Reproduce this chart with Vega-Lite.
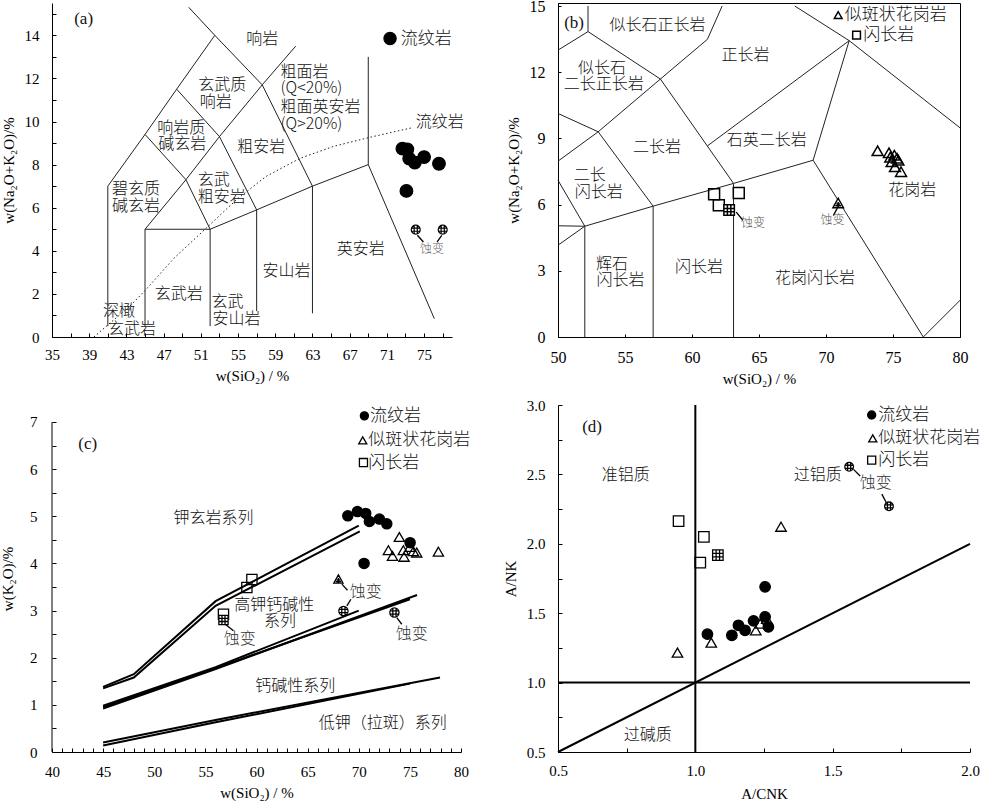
{
  "$schema": "https://vega.github.io/schema/vega-lite/v6.json",
  "background": "white",
  "padding": {"left": 0, "top": -3, "right": 0, "bottom": 0},
  "bounds": "flush",
  "columns": 2,
  "spacing": {"row": 68, "column": 97},
  "config": {
    "view": {"stroke": null},
    "font": "Liberation Serif",
    "axis": {"grid": false, "labelFont": "Liberation Serif", "labelFontSize": 15, "titleFont": "Liberation Serif", "titleFontSize": 15, "titleFontWeight": "normal", "labelColor": "#000", "titleColor": "#000", "domainColor": "#000", "tickColor": "#000", "labelFlush": false, "labelOverlap": false, "domainWidth": 1, "tickWidth": 1}
  },
  "datasets": {
    "a_ln": [
      {"s": 1, "x": 41, "y": 0.5}, {"s": 1, "x": 41, "y": 7}, {"s": 1, "x": 45, "y": 9.4}, {"s": 1, "x": 48.4, "y": 11.5}, {"s": 1, "x": 52.5, "y": 14}, {"s": 1, "x": 49.7, "y": 15.3},
      {"s": 2, "x": 52.5, "y": 14}, {"s": 2, "x": 57.6, "y": 11.7}, {"s": 2, "x": 61.2, "y": 13.5},
      {"s": 3, "x": 57.6, "y": 11.7}, {"s": 3, "x": 63, "y": 7}, {"s": 3, "x": 63, "y": 1.1},
      {"s": 4, "x": 63, "y": 7}, {"s": 4, "x": 69, "y": 8}, {"s": 4, "x": 69, "y": 13},
      {"s": 5, "x": 69, "y": 8}, {"s": 5, "x": 76.1, "y": 0.85},
      {"s": 6, "x": 45, "y": 0.5}, {"s": 6, "x": 45, "y": 5}, {"s": 6, "x": 52, "y": 5}, {"s": 6, "x": 52, "y": 0.5},
      {"s": 7, "x": 52, "y": 5}, {"s": 7, "x": 57, "y": 5.9}, {"s": 7, "x": 63, "y": 7},
      {"s": 8, "x": 57, "y": 5.9}, {"s": 8, "x": 57, "y": 1.2},
      {"s": 9, "x": 45, "y": 5}, {"s": 9, "x": 49.4, "y": 7.3}, {"s": 9, "x": 53, "y": 9.3}, {"s": 9, "x": 57.6, "y": 11.7},
      {"s": 10, "x": 45, "y": 9.4}, {"s": 10, "x": 49.4, "y": 7.3}, {"s": 10, "x": 52, "y": 5},
      {"s": 11, "x": 48.4, "y": 11.5}, {"s": 11, "x": 53, "y": 9.3}, {"s": 11, "x": 57, "y": 5.9}
    ],
    "a_dot": [
      {"x": 39.5, "y": 0}, {"x": 41, "y": 0.56}, {"x": 43.3, "y": 1.4}, {"x": 45, "y": 2.15}, {"x": 48.1, "y": 3.65}, {"x": 51.7, "y": 5.1}, {"x": 54.9, "y": 6.4}, {"x": 58, "y": 7.45}, {"x": 61.7, "y": 8.3}, {"x": 65.3, "y": 8.85}, {"x": 69.3, "y": 9.28}, {"x": 73.6, "y": 9.7}
    ],
    "a_ld": [
      {"s": 1, "x": 74.28, "y": 4.72}, {"s": 1, "x": 74.93, "y": 4.41},
      {"s": 2, "x": 76.9, "y": 4.72}, {"s": 2, "x": 76.4, "y": 4.41}
    ],
    "a_pt": [
      {"x": 72.67, "y": 8.74, "sym": "rhy"}, {"x": 73.2, "y": 8.71, "sym": "rhy"}, {"x": 73.4, "y": 8.28, "sym": "rhy"}, {"x": 74.0, "y": 8.09, "sym": "rhy"}, {"x": 75.0, "y": 8.35, "sym": "rhy"}, {"x": 76.6, "y": 8.04, "sym": "rhy"}, {"x": 73.1, "y": 6.78, "sym": "rhy"},
      {"x": 74.1, "y": 4.98, "sym": "rhy_alt"}, {"x": 77.0, "y": 4.98, "sym": "rhy_alt"},
      {"x": 71.34, "y": 13.85, "sym": "rhy", "g": "leg"}
    ],
    "a_tx": [
      {"t": "响岩", "x": 57.6, "y": 13.85, "k": "c"},
      {"t": "玄武质", "x": 53.3, "y": 11.68, "k": "c"},
      {"t": "响岩", "x": 52.6, "y": 10.9, "k": "c"},
      {"t": "粗面岩", "x": 59.57, "y": 12.3, "k": "L"},
      {"t": "(Q<20%)", "x": 59.57, "y": 11.56, "k": "L"},
      {"t": "粗面英安岩", "x": 59.57, "y": 10.67, "k": "L"},
      {"t": "(Q>20%)", "x": 59.57, "y": 9.87, "k": "L"},
      {"t": "响岩质", "x": 48.9, "y": 9.72, "k": "c"},
      {"t": "碱玄岩", "x": 49.0, "y": 8.94, "k": "c"},
      {"t": "粗安岩", "x": 57.5, "y": 8.82, "k": "c"},
      {"t": "玄武", "x": 52.4, "y": 7.27, "k": "c"},
      {"t": "粗安岩", "x": 53.26, "y": 6.5, "k": "c"},
      {"t": "碧玄质", "x": 44.04, "y": 6.88, "k": "c"},
      {"t": "碱玄岩", "x": 44.04, "y": 6.06, "k": "c"},
      {"t": "英安岩", "x": 68.18, "y": 4.1, "k": "c"},
      {"t": "安山岩", "x": 60.2, "y": 3.06, "k": "c"},
      {"t": "玄武岩", "x": 48.63, "y": 2.01, "k": "c"},
      {"t": "玄武", "x": 53.87, "y": 1.62, "k": "c"},
      {"t": "安山岩", "x": 54.84, "y": 0.82, "k": "c"},
      {"t": "深橄", "x": 42.2, "y": 1.21, "k": "c"},
      {"t": "玄武岩", "x": 43.6, "y": 0.39, "k": "c"},
      {"t": "流纹岩", "x": 74.1, "y": 9.98, "k": "L"},
      {"t": "流纹岩", "x": 72.49, "y": 13.85, "k": "g"},
      {"t": "蚀变", "x": 75.86, "y": 4.1, "k": "n"},
      {"t": "(a)", "x": 38.4, "y": 14.77, "k": "p"}
    ],
    "b_ln": [
      {"s": 1, "x": 50, "y": 13}, {"s": 1, "x": 52.24, "y": 13.84}, {"s": 1, "x": 52.24, "y": 15},
      {"s": 2, "x": 52.24, "y": 13.84}, {"s": 2, "x": 57.64, "y": 11.69}, {"s": 2, "x": 61.15, "y": 13.49}, {"s": 2, "x": 62.25, "y": 15},
      {"s": 3, "x": 57.64, "y": 11.69}, {"s": 3, "x": 63.1, "y": 6.96},
      {"s": 4, "x": 50, "y": 10.13}, {"s": 4, "x": 53, "y": 9.3}, {"s": 4, "x": 57.64, "y": 11.69},
      {"s": 5, "x": 53, "y": 9.3}, {"s": 5, "x": 57.1, "y": 5.93},
      {"s": 6, "x": 50, "y": 7.97}, {"s": 6, "x": 53, "y": 9.3},
      {"s": 7, "x": 50, "y": 7.1}, {"s": 7, "x": 52, "y": 5.02},
      {"s": 8, "x": 50, "y": 5.04}, {"s": 8, "x": 52, "y": 5.02},
      {"s": 9, "x": 50, "y": 4.16}, {"s": 9, "x": 52, "y": 5.02},
      {"s": 10, "x": 52, "y": 5.02}, {"s": 10, "x": 57.1, "y": 5.93}, {"s": 10, "x": 63.1, "y": 6.96}, {"s": 10, "x": 69.04, "y": 8.01},
      {"s": 11, "x": 52, "y": 5.02}, {"s": 11, "x": 52, "y": 0},
      {"s": 12, "x": 57.1, "y": 5.93}, {"s": 12, "x": 57.1, "y": 0},
      {"s": 13, "x": 63.1, "y": 6.96}, {"s": 13, "x": 63.1, "y": 0},
      {"s": 14, "x": 61.15, "y": 8.66}, {"s": 14, "x": 71.73, "y": 13.43},
      {"s": 15, "x": 71.73, "y": 13.43}, {"s": 15, "x": 69.04, "y": 8.01},
      {"s": 16, "x": 67.67, "y": 15}, {"s": 16, "x": 71.73, "y": 13.43}, {"s": 16, "x": 80, "y": 9.48},
      {"s": 17, "x": 69.04, "y": 8.01}, {"s": 17, "x": 77.26, "y": 0}, {"s": 17, "x": 80, "y": 1.66}
    ],
    "b_ld": [
      {"s": 1, "x": 63.3, "y": 5.66}, {"s": 1, "x": 63.8, "y": 5.29},
      {"s": 2, "x": 70.85, "y": 5.85}, {"s": 2, "x": 70.55, "y": 5.5}
    ],
    "b_pt": [
      {"x": 61.65, "y": 6.47, "sym": "dio"}, {"x": 63.49, "y": 6.53, "sym": "dio"}, {"x": 62.0, "y": 5.97, "sym": "dio"}, {"x": 62.77, "y": 5.75, "sym": "dio_alt"},
      {"x": 73.85, "y": 8.44, "sym": "gra"}, {"x": 74.7, "y": 8.35, "sym": "gra"}, {"x": 75.1, "y": 8.24, "sym": "gra"}, {"x": 75.4, "y": 8.01, "sym": "gra"}, {"x": 74.9, "y": 7.94, "sym": "gra"}, {"x": 75.6, "y": 7.49, "sym": "gra"}, {"x": 75.15, "y": 7.71, "sym": "gra"}, {"x": 74.8, "y": 8.15, "sym": "gra"}, {"x": 75.3, "y": 8.1, "sym": "gra"},
      {"x": 70.91, "y": 6.05, "sym": "gra_alt"},
      {"x": 70.91, "y": 14.59, "sym": "gra", "g": "leg"}, {"x": 72.28, "y": 13.68, "sym": "dio", "g": "leg"}
    ],
    "b_tx": [
      {"t": "似长石正长岩", "x": 57.42, "y": 14.14, "k": "c"},
      {"t": "正长岩", "x": 63.99, "y": 12.78, "k": "c"},
      {"t": "似长石", "x": 53.29, "y": 12.17, "k": "c"},
      {"t": "二长正长岩", "x": 53.41, "y": 11.45, "k": "c"},
      {"t": "石英二长岩", "x": 65.58, "y": 8.95, "k": "c"},
      {"t": "二长岩", "x": 57.39, "y": 8.62, "k": "c"},
      {"t": "二长", "x": 52.37, "y": 7.33, "k": "c"},
      {"t": "闪长岩", "x": 53.04, "y": 6.58, "k": "c"},
      {"t": "花岗岩", "x": 76.44, "y": 6.68, "k": "c"},
      {"t": "辉石", "x": 54.03, "y": 3.33, "k": "c"},
      {"t": "闪长岩", "x": 54.66, "y": 2.6, "k": "c"},
      {"t": "闪长岩", "x": 60.53, "y": 3.18, "k": "c"},
      {"t": "花岗闪长岩", "x": 69.17, "y": 2.68, "k": "c"},
      {"t": "似斑状花岗岩", "x": 71.4, "y": 14.59, "k": "g"},
      {"t": "闪长岩", "x": 72.78, "y": 13.68, "k": "g"},
      {"t": "蚀变", "x": 64.56, "y": 5.17, "k": "n"},
      {"t": "蚀变", "x": 70.49, "y": 5.29, "k": "n"},
      {"t": "(b)", "x": 51.2, "y": 14.21, "k": "p"}
    ],
    "c_ln": [
      {"s": "A", "x": 45, "y": 1.38}, {"s": "A", "x": 48, "y": 1.65}, {"s": "A", "x": 56, "y": 3.2}, {"s": "A", "x": 70, "y": 4.8},
      {"s": "B", "x": 45, "y": 1.35}, {"s": "B", "x": 48, "y": 1.58}, {"s": "B", "x": 56, "y": 3.1}, {"s": "B", "x": 70.1, "y": 4.68},
      {"s": "C", "x": 45, "y": 0.98}, {"s": "C", "x": 56, "y": 1.8}, {"s": "C", "x": 70, "y": 3.0},
      {"s": "D", "x": 45, "y": 0.92}, {"s": "D", "x": 56, "y": 1.76}, {"s": "D", "x": 75.7, "y": 3.33},
      {"s": "E", "x": 45, "y": 0.95}, {"s": "E", "x": 56, "y": 1.78}, {"s": "E", "x": 75, "y": 3.24},
      {"s": "F", "x": 45, "y": 0.2}, {"s": "F", "x": 56, "y": 0.68}, {"s": "F", "x": 77.95, "y": 1.58},
      {"s": "G", "x": 45, "y": 0.14}, {"s": "G", "x": 56, "y": 0.63}, {"s": "G", "x": 75, "y": 1.45}
    ],
    "c_ax": [
      {"x": 40, "y": 0}, {"x": 40, "y": 7}
    ],
    "c_ld": [
      {"s": 1, "x": 68.35, "y": 3.56}, {"s": 1, "x": 68.9, "y": 3.43},
      {"s": 2, "x": 68.84, "y": 3.1}, {"s": 2, "x": 69.23, "y": 3.24},
      {"s": 3, "x": 73.72, "y": 2.85}, {"s": 3, "x": 74.21, "y": 2.71},
      {"s": 4, "x": 56.94, "y": 2.71}, {"s": 4, "x": 57.75, "y": 2.57}
    ],
    "c_pt": [
      {"x": 68.93, "y": 5.01, "sym": "rhy"}, {"x": 69.87, "y": 5.1, "sym": "rhy"}, {"x": 70.68, "y": 5.06, "sym": "rhy"}, {"x": 71.04, "y": 4.89, "sym": "rhy"}, {"x": 72.02, "y": 4.94, "sym": "rhy"}, {"x": 72.74, "y": 4.84, "sym": "rhy"}, {"x": 70.52, "y": 4.0, "sym": "rhy"}, {"x": 75.02, "y": 4.44, "sym": "rhy"},
      {"x": 73.97, "y": 4.56, "sym": "gra"}, {"x": 72.9, "y": 4.28, "sym": "gra"}, {"x": 73.3, "y": 4.16, "sym": "gra"}, {"x": 74.36, "y": 4.28, "sym": "gra"}, {"x": 74.43, "y": 4.14, "sym": "gra"}, {"x": 75.34, "y": 4.26, "sym": "gra"}, {"x": 75.67, "y": 4.23, "sym": "gra"}, {"x": 77.79, "y": 4.25, "sym": "gra"}, {"x": 75.0, "y": 4.35, "sym": "gra"},
      {"x": 68.01, "y": 3.66, "sym": "gra_alt"},
      {"x": 59.55, "y": 3.66, "sym": "dio"}, {"x": 59.06, "y": 3.49, "sym": "dio"}, {"x": 56.77, "y": 2.92, "sym": "dio"},
      {"x": 56.77, "y": 2.8, "sym": "dio_alt"},
      {"x": 68.5, "y": 2.99, "sym": "rhy_alt"}, {"x": 73.49, "y": 2.96, "sym": "rhy_alt"},
      {"x": 70.55, "y": 7.13, "sym": "rhy", "g": "leg"}, {"x": 70.39, "y": 6.61, "sym": "gra", "g": "leg"}, {"x": 70.46, "y": 6.14, "sym": "dio", "g": "leg"}
    ],
    "c_tx": [
      {"t": "钾玄岩系列", "x": 55.8, "y": 4.97, "k": "c"},
      {"t": "高钾钙碱性", "x": 61.73, "y": 3.12, "k": "c"},
      {"t": "系列", "x": 62.3, "y": 2.77, "k": "c"},
      {"t": "钙碱性系列", "x": 63.78, "y": 1.4, "k": "c"},
      {"t": "低钾（拉斑）系列", "x": 72.35, "y": 0.62, "k": "c"},
      {"t": "蚀变", "x": 58.37, "y": 2.39, "k": "N"},
      {"t": "蚀变", "x": 70.68, "y": 3.4, "k": "N"},
      {"t": "蚀变", "x": 75.18, "y": 2.5, "k": "N"},
      {"t": "(c)", "x": 43.5, "y": 6.53, "k": "p"},
      {"t": "流纹岩", "x": 71.1, "y": 7.13, "k": "g"},
      {"t": "似斑状花岗岩", "x": 70.94, "y": 6.61, "k": "g"},
      {"t": "闪长岩", "x": 70.94, "y": 6.14, "k": "g"}
    ],
    "d_ln": [
      {"s": 1, "x": 1, "y": 0.5}, {"s": 1, "x": 1, "y": 3},
      {"s": 2, "x": 0.5, "y": 1}, {"s": 2, "x": 2, "y": 1},
      {"s": 3, "x": 0.5, "y": 0.5}, {"s": 3, "x": 2, "y": 2}
    ],
    "d_ld": [
      {"s": 1, "x": 1.576, "y": 2.536}, {"s": 1, "x": 1.6, "y": 2.488},
      {"s": 2, "x": 1.679, "y": 2.358}, {"s": 2, "x": 1.697, "y": 2.29}
    ],
    "d_pt": [
      {"x": 1.044, "y": 1.349, "sym": "rhy"}, {"x": 1.133, "y": 1.341, "sym": "rhy"}, {"x": 1.157, "y": 1.413, "sym": "rhy"}, {"x": 1.181, "y": 1.377, "sym": "rhy"}, {"x": 1.212, "y": 1.445, "sym": "rhy"}, {"x": 1.254, "y": 1.69, "sym": "rhy"}, {"x": 1.254, "y": 1.474, "sym": "rhy"}, {"x": 1.266, "y": 1.401, "sym": "rhy"},
      {"x": 0.935, "y": 1.216, "sym": "gra"}, {"x": 1.058, "y": 1.288, "sym": "gra"}, {"x": 1.312, "y": 2.123, "sym": "gra"}, {"x": 1.22, "y": 1.377, "sym": "gra"}, {"x": 1.236, "y": 1.425, "sym": "gra"}, {"x": 1.26, "y": 1.46, "sym": "gra"},
      {"x": 0.939, "y": 2.163, "sym": "dio"}, {"x": 1.031, "y": 2.05, "sym": "dio"}, {"x": 1.018, "y": 1.865, "sym": "dio"}, {"x": 1.082, "y": 1.918, "sym": "dio_alt"},
      {"x": 1.56, "y": 2.555, "sym": "rhy_alt"}, {"x": 1.705, "y": 2.27, "sym": "rhy_alt"},
      {"x": 1.642, "y": 2.928, "sym": "rhy", "g": "leg"}, {"x": 1.646, "y": 2.76, "sym": "gra", "g": "leg"}, {"x": 1.642, "y": 2.603, "sym": "dio", "g": "leg"}
    ],
    "d_tx": [
      {"t": "准铝质", "x": 0.747, "y": 2.495, "k": "c"},
      {"t": "过铝质", "x": 1.446, "y": 2.495, "k": "c"},
      {"t": "过碱质", "x": 0.827, "y": 0.62, "k": "c"},
      {"t": "蚀变", "x": 1.657, "y": 2.435, "k": "N"},
      {"t": "(d)", "x": 0.624, "y": 2.84, "k": "p"},
      {"t": "流纹岩", "x": 1.666, "y": 2.928, "k": "g"},
      {"t": "似斑状花岗岩", "x": 1.666, "y": 2.76, "k": "g"},
      {"t": "闪长岩", "x": 1.666, "y": 2.603, "k": "g"}
    ]
  },
  "concat": [
    {
      "width": 400, "height": 334,
      "encoding": {
        "x": {"field": "x", "type": "quantitative", "scale": {"domain": [35, 78], "nice": false, "zero": false}, "axis": {"title": "w(SiO₂) / %", "values": [35, 37, 39, 41, 43, 45, 47, 49, 51, 53, 55, 57, 59, 61, 63, 65, 67, 69, 71, 73, 75, 77], "labelExpr": "datum.value % 4 == 3 ? datum.label : ''", "tickSize": -4, "labelPadding": 14, "titlePadding": 6}},
        "y": {"field": "y", "type": "quantitative", "scale": {"domain": [0, 15.5], "nice": false, "zero": false}, "axis": {"title": "w(Na₂O+K₂O)/%", "values": [0, 1, 2, 3, 4, 5, 6, 7, 8, 9, 10, 11, 12, 13, 14, 15], "labelExpr": "datum.value % 2 == 0 ? datum.label : ''", "tickSize": -4, "labelPadding": 17, "titlePadding": 8}}
      },
      "layer": [
        {"data": {"name": "a_ln"}, "mark": {"type": "line", "color": "#222", "strokeWidth": 1}, "encoding": {"detail": {"field": "s"}, "order": {"value": null}}},
        {"data": {"name": "a_dot"}, "mark": {"type": "line", "color": "#222", "strokeWidth": 1, "strokeDash": [1.5, 2.5]}, "encoding": {"order": {"value": null}}},
        {"data": {"name": "a_ld"}, "mark": {"type": "line", "color": "#000", "strokeWidth": 1.3}, "encoding": {"detail": {"field": "s"}, "order": {"value": null}}},
        {"data": {"name": "a_pt"}, "mark": {"type": "point", "filled": true, "stroke": "#000", "strokeWidth": 1.2, "opacity": 1},
         "encoding": {
           "shape": {"field": "sym", "type": "nominal", "legend": null, "scale": {"domain": ["rhy", "gra", "dio", "rhy_alt", "gra_alt", "dio_alt"], "range": ["circle", "triangle-up", "square", "M-1,0A1,1,0,1,1,1,0A1,1,0,1,1,-1,0ZM-0.35,-0.93L-0.35,0.93M0.35,-0.93L0.35,0.93M-0.93,-0.35L0.93,-0.35M-0.93,0.35L0.93,0.35", "M0,-1L1,0.8L-1,0.8ZM-0.35,0.1L0.35,0.1M-0.55,0.45L0.55,0.45M0,-0.3L0,0.8", "M-1,-1L1,-1L1,1L-1,1ZM-0.33,-1L-0.33,1M0.33,-1L0.33,1M-1,-0.33L1,-0.33M-1,0.33L1,0.33"]}},
           "fill": {"field": "sym", "type": "nominal", "legend": null, "scale": {"domain": ["rhy", "gra", "dio", "rhy_alt", "gra_alt", "dio_alt"], "range": ["black", "transparent", "transparent", "white", "white", "white"]}},
           "size": {"condition": [{"test": "datum.g == 'leg'", "value": 150}, {"test": "indexof(datum.sym, 'alt') >= 0", "value": 80}], "value": 160}
         }},
        {"data": {"name": "a_tx"}, "transform": [{"filter": "datum.k == 'c'"}], "mark": {"type": "text", "font": "Noto Sans CJK SC", "fontSize": 16, "fontWeight": 300, "color": "#111", "align": "center", "baseline": "middle"}, "encoding": {"text": {"field": "t"}}},
        {"data": {"name": "a_tx"}, "transform": [{"filter": "datum.k == 'L'"}], "mark": {"type": "text", "font": "Noto Sans CJK SC", "fontSize": 16, "fontWeight": 300, "color": "#111", "align": "left", "baseline": "middle"}, "encoding": {"text": {"field": "t"}}},
        {"data": {"name": "a_tx"}, "transform": [{"filter": "datum.k == 'g'"}], "mark": {"type": "text", "font": "Noto Sans CJK SC", "fontSize": 17, "fontWeight": 300, "color": "#111", "align": "left", "baseline": "middle"}, "encoding": {"text": {"field": "t"}}},
        {"data": {"name": "a_tx"}, "transform": [{"filter": "datum.k == 'n'"}], "mark": {"type": "text", "font": "Noto Sans CJK SC", "fontSize": 12, "fontWeight": 300, "color": "#666", "align": "center", "baseline": "middle"}, "encoding": {"text": {"field": "t"}}},
        {"data": {"name": "a_tx"}, "transform": [{"filter": "datum.k == 'p'"}], "mark": {"type": "text", "font": "Liberation Serif", "fontSize": 17, "color": "#111", "align": "center", "baseline": "middle"}, "encoding": {"text": {"field": "t"}}}
      ]
    },
    {
      "width": 402, "height": 334,
      "view": {"stroke": "#000", "strokeWidth": 1},
      "encoding": {
        "x": {"field": "x", "type": "quantitative", "scale": {"domain": [50, 80], "nice": false, "zero": false}, "axis": {"title": "w(SiO₂) / %", "values": [50, 55, 60, 65, 70, 75, 80], "tickSize": -3, "labelPadding": 15, "titlePadding": 6, "labelFontSize": 16}},
        "y": {"field": "y", "type": "quantitative", "scale": {"domain": [0, 15.136], "nice": false, "zero": false}, "axis": {"title": "w(Na₂O+K₂O)/%", "values": [0, 3, 6, 9, 12, 15], "tickSize": -3, "labelPadding": 16, "titlePadding": 8, "labelFontSize": 16}}
      },
      "layer": [
        {"data": {"name": "b_ln"}, "mark": {"type": "line", "color": "#222", "strokeWidth": 1}, "encoding": {"detail": {"field": "s"}, "order": {"value": null}}},
        {"data": {"name": "b_ld"}, "mark": {"type": "line", "color": "#000", "strokeWidth": 1.3}, "encoding": {"detail": {"field": "s"}, "order": {"value": null}}},
        {"data": {"name": "b_pt"}, "mark": {"type": "point", "filled": true, "stroke": "#000", "strokeWidth": 1.5, "opacity": 1},
         "encoding": {
           "shape": {"field": "sym", "type": "nominal", "legend": null, "scale": {"domain": ["rhy", "gra", "dio", "rhy_alt", "gra_alt", "dio_alt"], "range": ["circle", "triangle-up", "square", "M-1,0A1,1,0,1,1,1,0A1,1,0,1,1,-1,0ZM-0.35,-0.93L-0.35,0.93M0.35,-0.93L0.35,0.93M-0.93,-0.35L0.93,-0.35M-0.93,0.35L0.93,0.35", "M0,-1L1,0.8L-1,0.8ZM-0.35,0.1L0.35,0.1M-0.55,0.45L0.55,0.45M0,-0.3L0,0.8", "M-1,-1L1,-1L1,1L-1,1ZM-0.33,-1L-0.33,1M0.33,-1L0.33,1M-1,-0.33L1,-0.33M-1,0.33L1,0.33"]}},
           "fill": {"field": "sym", "type": "nominal", "legend": null, "scale": {"domain": ["rhy", "gra", "dio", "rhy_alt", "gra_alt", "dio_alt"], "range": ["black", "transparent", "transparent", "white", "white", "white"]}},
           "size": {"condition": [{"test": "datum.g == 'leg'", "value": 60}, {"test": "indexof(datum.sym, 'alt') >= 0", "value": 110}], "value": 120}
         }},
        {"data": {"name": "b_tx"}, "transform": [{"filter": "datum.k == 'c'"}], "mark": {"type": "text", "font": "Noto Sans CJK SC", "fontSize": 16, "fontWeight": 300, "color": "#111", "align": "center", "baseline": "middle"}, "encoding": {"text": {"field": "t"}}},
        {"data": {"name": "b_tx"}, "transform": [{"filter": "datum.k == 'g'"}], "mark": {"type": "text", "font": "Noto Sans CJK SC", "fontSize": 17, "fontWeight": 300, "color": "#111", "align": "left", "baseline": "middle"}, "encoding": {"text": {"field": "t"}}},
        {"data": {"name": "b_tx"}, "transform": [{"filter": "datum.k == 'n'"}], "mark": {"type": "text", "font": "Noto Sans CJK SC", "fontSize": 12, "fontWeight": 300, "color": "#555", "align": "center", "baseline": "middle"}, "encoding": {"text": {"field": "t"}}},
        {"data": {"name": "b_tx"}, "transform": [{"filter": "datum.k == 'p'"}], "mark": {"type": "text", "font": "Liberation Serif", "fontSize": 17, "color": "#111", "align": "center", "baseline": "middle"}, "encoding": {"text": {"field": "t"}}}
      ]
    },
    {
      "width": 409, "height": 347,
      "encoding": {
        "x": {"field": "x", "type": "quantitative", "scale": {"domain": [40, 80], "nice": false, "zero": false}, "axis": {"title": "w(SiO₂) / %", "values": [40, 41, 42, 43, 44, 45, 46, 47, 48, 49, 50, 51, 52, 53, 54, 55, 56, 57, 58, 59, 60, 61, 62, 63, 64, 65, 66, 67, 68, 69, 70, 71, 72, 73, 74, 75, 76, 77, 78, 79, 80], "labelExpr": "datum.value % 5 == 0 ? datum.label : ''", "tickSize": -4, "labelPadding": 16, "titlePadding": 6}},
        "y": {"field": "y", "type": "quantitative", "scale": {"domain": [0, 7.36], "nice": false, "zero": false}, "axis": {"title": "w(K₂O)/%", "domain": false, "values": [0, 0.5, 1, 1.5, 2, 2.5, 3, 3.5, 4, 4.5, 5, 5.5, 6, 6.5, 7], "labelExpr": "datum.value % 1 == 0 ? format(datum.value, 'd') : ''", "tickSize": -4, "labelPadding": 19, "titlePadding": 14}}
      },
      "layer": [
        {"data": {"name": "c_ax"}, "mark": {"type": "line", "color": "#000", "strokeWidth": 1}, "encoding": {"order": {"value": null}}},
        {"data": {"name": "c_ln"}, "mark": {"type": "line", "color": "#000", "strokeWidth": 2}, "encoding": {"detail": {"field": "s"}, "order": {"value": null}}},
        {"data": {"name": "c_ld"}, "mark": {"type": "line", "color": "#000", "strokeWidth": 1.3}, "encoding": {"detail": {"field": "s"}, "order": {"value": null}}},
        {"data": {"name": "c_pt"}, "mark": {"type": "point", "filled": true, "stroke": "#000", "strokeWidth": 1.3, "opacity": 1},
         "encoding": {
           "shape": {"field": "sym", "type": "nominal", "legend": null, "scale": {"domain": ["rhy", "gra", "dio", "rhy_alt", "gra_alt", "dio_alt"], "range": ["circle", "triangle-up", "square", "M-1,0A1,1,0,1,1,1,0A1,1,0,1,1,-1,0ZM-0.35,-0.93L-0.35,0.93M0.35,-0.93L0.35,0.93M-0.93,-0.35L0.93,-0.35M-0.93,0.35L0.93,0.35", "M0,-1L1,0.8L-1,0.8ZM-0.35,0.1L0.35,0.1M-0.55,0.45L0.55,0.45M0,-0.3L0,0.8", "M-1,-1L1,-1L1,1L-1,1ZM-0.33,-1L-0.33,1M0.33,-1L0.33,1M-1,-0.33L1,-0.33M-1,0.33L1,0.33"]}},
           "fill": {"field": "sym", "type": "nominal", "legend": null, "scale": {"domain": ["rhy", "gra", "dio", "rhy_alt", "gra_alt", "dio_alt"], "range": ["black", "transparent", "transparent", "white", "white", "white"]}},
           "size": {"condition": [{"test": "datum.g == 'leg'", "value": 65}, {"test": "indexof(datum.sym, 'alt') >= 0", "value": 85}], "value": 105}
         }},
        {"data": {"name": "c_tx"}, "transform": [{"filter": "datum.k == 'c'"}], "mark": {"type": "text", "font": "Noto Sans CJK SC", "fontSize": 16, "fontWeight": 300, "color": "#111", "align": "center", "baseline": "middle"}, "encoding": {"text": {"field": "t"}}},
        {"data": {"name": "c_tx"}, "transform": [{"filter": "datum.k == 'g'"}], "mark": {"type": "text", "font": "Noto Sans CJK SC", "fontSize": 17, "fontWeight": 300, "color": "#111", "align": "left", "baseline": "middle"}, "encoding": {"text": {"field": "t"}}},
        {"data": {"name": "c_tx"}, "transform": [{"filter": "datum.k == 'N'"}], "mark": {"type": "text", "font": "Noto Sans CJK SC", "fontSize": 16, "fontWeight": 300, "color": "#333", "align": "center", "baseline": "middle"}, "encoding": {"text": {"field": "t"}}},
        {"data": {"name": "c_tx"}, "transform": [{"filter": "datum.k == 'p'"}], "mark": {"type": "text", "font": "Liberation Serif", "fontSize": 17, "color": "#111", "align": "center", "baseline": "middle"}, "encoding": {"text": {"field": "t"}}}
      ]
    },
    {
      "width": 412, "height": 347,
      "encoding": {
        "x": {"field": "x", "type": "quantitative", "scale": {"domain": [0.5, 2.0], "nice": false, "zero": false}, "axis": {"title": "A/CNK", "values": [0.5, 0.75, 1.0, 1.25, 1.5, 1.75, 2.0], "labelExpr": "(datum.value * 2) % 1 == 0 ? format(datum.value, '.1f') : ''", "tickSize": -4, "labelPadding": 15, "titlePadding": 8}},
        "y": {"field": "y", "type": "quantitative", "scale": {"domain": [0.5, 3.0], "nice": false, "zero": false}, "axis": {"title": "A/NK", "values": [0.5, 0.75, 1.0, 1.25, 1.5, 1.75, 2.0, 2.25, 2.5, 2.75, 3.0], "labelExpr": "(datum.value * 2) % 1 == 0 ? format(datum.value, '.1f') : ''", "tickSize": -4, "labelPadding": 17, "titlePadding": 8}}
      },
      "layer": [
        {"data": {"name": "d_ln"}, "mark": {"type": "line", "color": "#000", "strokeWidth": 2}, "encoding": {"detail": {"field": "s"}, "order": {"value": null}}},
        {"data": {"name": "d_ld"}, "mark": {"type": "line", "color": "#000", "strokeWidth": 1.3}, "encoding": {"detail": {"field": "s"}, "order": {"value": null}}},
        {"data": {"name": "d_pt"}, "mark": {"type": "point", "filled": true, "stroke": "#000", "strokeWidth": 1.3, "opacity": 1},
         "encoding": {
           "shape": {"field": "sym", "type": "nominal", "legend": null, "scale": {"domain": ["rhy", "gra", "dio", "rhy_alt", "gra_alt", "dio_alt"], "range": ["circle", "triangle-up", "square", "M-1,0A1,1,0,1,1,1,0A1,1,0,1,1,-1,0ZM-0.35,-0.93L-0.35,0.93M0.35,-0.93L0.35,0.93M-0.93,-0.35L0.93,-0.35M-0.93,0.35L0.93,0.35", "M0,-1L1,0.8L-1,0.8ZM-0.35,0.1L0.35,0.1M-0.55,0.45L0.55,0.45M0,-0.3L0,0.8", "M-1,-1L1,-1L1,1L-1,1ZM-0.33,-1L-0.33,1M0.33,-1L0.33,1M-1,-0.33L1,-0.33M-1,0.33L1,0.33"]}},
           "fill": {"field": "sym", "type": "nominal", "legend": null, "scale": {"domain": ["rhy", "gra", "dio", "rhy_alt", "gra_alt", "dio_alt"], "range": ["black", "transparent", "transparent", "white", "white", "white"]}},
           "size": {"condition": [{"test": "datum.g == 'leg'", "value": 65}, {"test": "datum.sym == 'rhy_alt'", "value": 75}], "value": 110}
         }},
        {"data": {"name": "d_tx"}, "transform": [{"filter": "datum.k == 'c'"}], "mark": {"type": "text", "font": "Noto Sans CJK SC", "fontSize": 16, "fontWeight": 300, "color": "#111", "align": "center", "baseline": "middle"}, "encoding": {"text": {"field": "t"}}},
        {"data": {"name": "d_tx"}, "transform": [{"filter": "datum.k == 'g'"}], "mark": {"type": "text", "font": "Noto Sans CJK SC", "fontSize": 17, "fontWeight": 300, "color": "#111", "align": "left", "baseline": "middle"}, "encoding": {"text": {"field": "t"}}},
        {"data": {"name": "d_tx"}, "transform": [{"filter": "datum.k == 'N'"}], "mark": {"type": "text", "font": "Noto Sans CJK SC", "fontSize": 16, "fontWeight": 300, "color": "#333", "align": "center", "baseline": "middle"}, "encoding": {"text": {"field": "t"}}},
        {"data": {"name": "d_tx"}, "transform": [{"filter": "datum.k == 'p'"}], "mark": {"type": "text", "font": "Liberation Serif", "fontSize": 17, "color": "#111", "align": "center", "baseline": "middle"}, "encoding": {"text": {"field": "t"}}}
      ]
    }
  ]
}
